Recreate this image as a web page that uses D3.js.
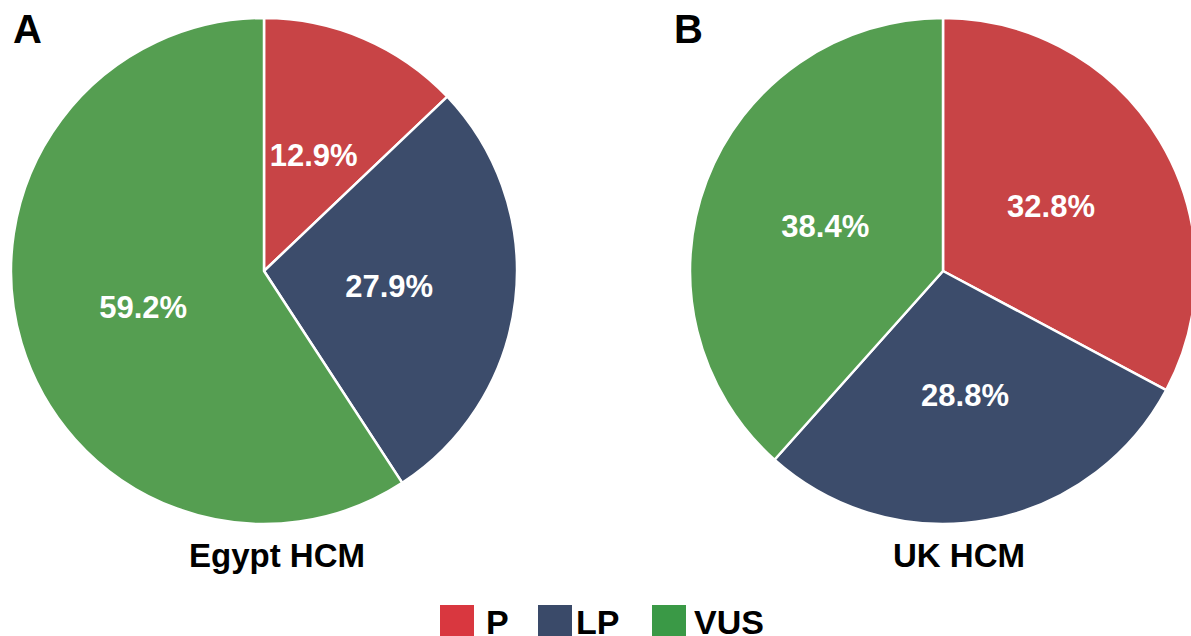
<!DOCTYPE html>
<html><head><meta charset="utf-8">
<script src="https://cdn.jsdelivr.net/npm/d3@7"></script>
<style>html,body{margin:0;padding:0;background:#fff;overflow:hidden}svg{display:block}</style>
</head><body>
<svg id="chart" width="1191" height="636"></svg>
<script>
const categories = ["P", "LP", "VUS"];
const egyptValues = [12.9, 27.9, 59.2];
const ukValues = [32.8, 28.8, 38.4];
const panelLetters = ["A", "B"];
const panelTitles = ["Egypt HCM", "UK HCM"];
const sliceColors = ["#C84446", "#3C4C6B", "#559E51"];
const legendColors = ["#D9373F", "#3A4A69", "#3A9946"];

const svg = d3.select("#chart");
const font = "'Liberation Sans', Arial, Helvetica, sans-serif";
const R = 253;
const panels = [
  {values: egyptValues, cx: 264, cy: 271, letterX: 13, titleX: 277},
  {values: ukValues, cx: 943, cy: 271, letterX: 674, titleX: 959}
];
const color = d3.scaleOrdinal().domain(categories).range(sliceColors);
const pie = d3.pie().sort(null).value(d => d.v);
const arc = d3.arc().innerRadius(0).outerRadius(R);
const labelArc = d3.arc().innerRadius(126).outerRadius(126);

panels.forEach((p, i) => {
  const g = svg.append("g").attr("transform", `translate(${p.cx},${p.cy})`);
  const data = pie(categories.map((c, k) => ({c, v: p.values[k]})));
  g.selectAll("path").data(data).join("path")
    .attr("d", arc).attr("fill", d => color(d.data.c))
    .attr("stroke", "#fff").attr("stroke-width", 2.5).attr("stroke-linejoin", "round");
  g.selectAll("text.pct").data(data).join("text").attr("class", "pct")
    .attr("transform", d => `translate(${labelArc.centroid(d)})`)
    .attr("text-anchor", "middle").attr("dy", "0.36em")
    .attr("fill", "#fff").attr("font-family", font).attr("font-weight", "bold")
    .attr("font-size", 31).text(d => d.data.v.toFixed(1) + "%");
  svg.append("text").attr("x", p.letterX).attr("y", 43)
    .attr("font-family", font).attr("font-weight", "bold").attr("font-size", 40)
    .attr("fill", "#000").text(panelLetters[i]);
  svg.append("text").attr("x", p.titleX).attr("y", 567).attr("text-anchor", "middle")
    .attr("font-family", font).attr("font-weight", "bold").attr("font-size", 33)
    .attr("fill", "#000").text(panelTitles[i]);
});

const legendLayout = [{sx: 440, tx: 486}, {sx: 538, tx: 576}, {sx: 652, tx: 694}];
const lg = svg.append("g");
categories.forEach((c, k) => {
  lg.append("rect").attr("x", legendLayout[k].sx).attr("y", 605)
    .attr("width", 34).attr("height", 34).attr("fill", legendColors[k]);
  lg.append("text").attr("x", legendLayout[k].tx).attr("y", 634)
    .attr("font-family", font).attr("font-weight", "bold").attr("font-size", 34)
    .attr("fill", "#000").text(c);
});
</script>
</body></html>
